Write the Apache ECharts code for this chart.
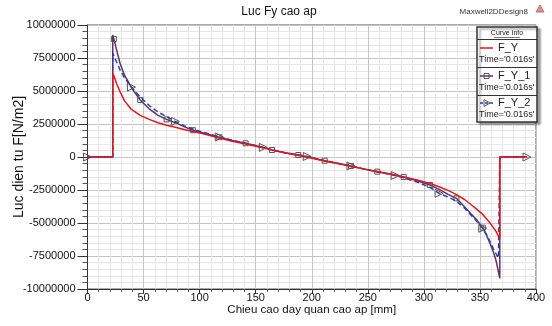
<!DOCTYPE html>
<html>
<head>
<meta charset="utf-8">
<script src="https://cdn.jsdelivr.net/npm/echarts@6/dist/echarts.min.js"></script>
<style>html,body{margin:0;padding:0;background:#fff}#c{width:552px;height:326px}</style>
</head>
<body>
<div id="c"></div>
<script>
// ---- data ----
var xs = [0, 22.5, 22.5, 23.5, 26, 29, 33, 39.2, 47, 55, 63, 70.5, 78.4, 86, 94, 105, 117.5, 129, 141, 156.8, 164.5, 176, 188, 196, 211.5, 223, 235, 246, 258.5, 274.4, 282, 294, 305.5, 313.6, 322, 329, 336, 342, 347, 352.5, 356, 359, 362, 364.5, 366.5, 367.7, 367.7, 376, 392];
var fy = [0, 0, 6340000, 6150000, 5550000, 4950000, 4250000, 3600000, 3150000, 2850000, 2600000, 2400000, 2250000, 2080000, 1930000, 1720000, 1430000, 1200000, 980000, 680000, 540000, 330000, 120000, -20000, -300000, -500000, -700000, -900000, -1100000, -1370000, -1520000, -1740000, -2000000, -2250000, -2550000, -2850000, -3200000, -3600000, -3950000, -4350000, -4700000, -5000000, -5350000, -5650000, -6000000, -6160000, 0, 0, 0];
var fy1 = [0, 0, 9240000, 8940000, 8100000, 7100000, 6200000, 5250000, 4320000, 3650000, 3150000, 2850000, 2600000, 2300000, 2030000, 1780000, 1500000, 1250000, 1040000, 730000, 530000, 330000, 150000, 20000, -280000, -480000, -680000, -900000, -1110000, -1360000, -1520000, -1800000, -2120000, -2450000, -2850000, -3130000, -3750000, -4300000, -4750000, -5350000, -5950000, -6550000, -7200000, -7900000, -8700000, -9190000, 0, 0, 0];
var fy2 = [0, 0, 7900000, 7650000, 7200000, 6600000, 6000000, 5300000, 4550000, 3900000, 3400000, 3050000, 2700000, 2380000, 2120000, 1830000, 1520000, 1270000, 1040000, 730000, 550000, 330000, 150000, 40000, -280000, -480000, -680000, -900000, -1130000, -1400000, -1580000, -1900000, -2300000, -2750000, -3050000, -3350000, -3850000, -4400000, -4850000, -5400000, -5900000, -6400000, -6950000, -7350000, -7650000, -7800000, 0, 0, 0];
var squareMarkX = [23.5, 47, 70.5, 94, 117.5, 141, 164.5, 188, 211.5, 235, 258.5, 282, 305.5, 329, 352.5];
var triMarkX = [0, 39.2, 78.4, 117.5, 156.8, 196, 235, 274.4, 313.6, 352.5, 392];
var seriesNames = ['F_Y', 'F_Y_1', 'F_Y_2'];
var timeLabel = "Time='0.016s'";
var titleText = 'Luc Fy cao ap';
var designText = 'Maxwell2DDesign8';
var xName = 'Chieu cao day quan cao ap [mm]';
var yName = 'Luc dien tu F[N/m2]';

var FONT = "'Liberation Sans', Arial, sans-serif";
var cRed = '#e8141c', cPur = '#5e3460', cBlue = '#2a3cb4', cMark = '#555555';

function build(vals, marks, sym, rot, size) {
  return xs.map(function (x, i) {
    var item = { value: [x, vals[i]] };
    if (marks && marks.indexOf(x) >= 0 && i === xs.lastIndexOf(x)) {
      item.symbol = sym; item.symbolSize = size; item.symbolRotate = rot;
    }
    return item;
  });
}

var chart = echarts.init(document.getElementById('c'), null, { renderer: 'canvas' });
var option = {
  animation: false,
  backgroundColor: '#fff',
  textStyle: { fontFamily: FONT },
  grid: { left: 87.5, right: 16, top: 25, bottom: 37, containLabel: false, outerBoundsMode: 'none', show: true, borderColor: '#555', borderWidth: 1, backgroundColor: 'transparent' },
  xAxis: {
    type: 'value', min: 0, max: 400, interval: 50,
    name: xName, nameLocation: 'middle', nameGap: 15, nameMoveOverlap: false,
    nameTextStyle: { fontFamily: FONT, fontSize: 11.5, color: '#111' },
    axisLine: { show: true, onZero: false, lineStyle: { color: '#333', width: 1 } },
    axisTick: { show: true, length: 5, lineStyle: { color: '#333' } },
    minorTick: { show: true, splitNumber: 5, length: 3, lineStyle: { color: '#555' } },
    axisLabel: { fontFamily: FONT, fontSize: 11, color: '#111', margin: 3 },
    splitLine: { show: true, lineStyle: { color: '#c4c4c4', width: 1 } },
    minorSplitLine: { show: true, lineStyle: { color: '#e6e6e6', width: 1 } }
  },
  yAxis: {
    type: 'value', min: -10000000, max: 10000000, interval: 2500000,
    name: yName, nameLocation: 'middle', nameGap: 61, nameRotate: 90, nameMoveOverlap: false,
    nameTextStyle: { fontFamily: FONT, fontSize: 14, color: '#111' },
    axisLine: { show: true, onZero: false, lineStyle: { color: '#333', width: 1 } },
    axisTick: { show: true, length: 10, lineStyle: { color: '#333' } },
    minorTick: { show: true, splitNumber: 5, length: 5, lineStyle: { color: '#555' } },
    axisLabel: { fontFamily: FONT, fontSize: 11, color: '#111', margin: 12, formatter: function (v) { return String(v); } },
    splitLine: { show: true, lineStyle: { color: '#c4c4c4', width: 1 } },
    minorSplitLine: { show: true, lineStyle: { color: '#e6e6e6', width: 1 } }
  },
  series: [
    {
      name: seriesNames[1], type: 'line', z: 2, symbol: 'none', showSymbol: true, showAllSymbol: true,
      data: build(fy1, squareMarkX, 'rect', 0, 5),
      lineStyle: { color: cPur, width: 1.5 },
      itemStyle: { color: 'rgba(255,255,255,0)', borderColor: cMark, borderWidth: 1 },
      emphasis: { disabled: true }
    },
    {
      name: seriesNames[2], type: 'line', z: 3, symbol: 'none', showSymbol: true, showAllSymbol: true,
      data: build(fy2, triMarkX, 'triangle', -90, 8),
      lineStyle: { color: cBlue, width: 1.5, type: [5, 3] },
      itemStyle: { color: 'rgba(255,255,255,0)', borderColor: cMark, borderWidth: 1 },
      emphasis: { disabled: true }
    },
    {
      name: seriesNames[0], type: 'line', z: 4, symbol: 'none', showSymbol: false,
      data: build(fy, null),
      lineStyle: { color: cRed, width: 1.5 },
      itemStyle: { color: cRed },
      emphasis: { disabled: true }
    }
  ],
  graphic: [
    { type: 'text', z: 10, style: { text: titleText, x: 279, y: 12, font: '12px ' + FONT, fill: '#111', align: 'center', verticalAlign: 'middle' } },
    { type: 'text', z: 10, style: { text: designText, x: 528, y: 12, font: '8px ' + FONT, fill: '#333', align: 'right', verticalAlign: 'middle' } },
    { type: 'polygon', z: 10, shape: { points: [[536, 12], [544, 12], [540, 5]] }, style: { fill: '#d89090', stroke: '#c07070' } },
    // legend box
    { type: 'rect', z: 20, shape: { x: 477, y: 27, width: 60, height: 95 }, style: { fill: '#fff', stroke: '#333', lineWidth: 1.5, shadowColor: 'rgba(0,0,0,0.35)', shadowOffsetX: 3, shadowOffsetY: 2, shadowBlur: 2 } },
    { type: 'text', z: 21, style: { text: 'Curve Info', x: 507, y: 33, font: '7px ' + FONT, fill: '#222', align: 'center', verticalAlign: 'middle' } },
    { type: 'line', z: 21, shape: { x1: 494, y1: 37.5, x2: 520, y2: 37.5 }, style: { stroke: '#222', lineWidth: 0.6 } },
    { type: 'line', z: 21, shape: { x1: 477, y1: 39.5, x2: 537, y2: 39.5 }, style: { stroke: '#333', lineWidth: 1 } },
    { type: 'line', z: 21, shape: { x1: 477, y1: 67.5, x2: 537, y2: 67.5 }, style: { stroke: '#333', lineWidth: 1 } },
    { type: 'line', z: 21, shape: { x1: 477, y1: 95.5, x2: 537, y2: 95.5 }, style: { stroke: '#333', lineWidth: 1 } },
    // row 1
    { type: 'line', z: 21, shape: { x1: 480, y1: 48, x2: 493, y2: 48 }, style: { stroke: cRed, lineWidth: 1.5 } },
    { type: 'text', z: 21, style: { text: seriesNames[0], x: 498, y: 48, font: '11px ' + FONT, fill: '#222', verticalAlign: 'middle' } },
    { type: 'text', z: 21, style: { text: timeLabel, x: 479, y: 60, font: '9px ' + FONT, fill: '#222', verticalAlign: 'middle' } },
    // row 2
    { type: 'line', z: 21, shape: { x1: 480, y1: 76, x2: 493, y2: 76 }, style: { stroke: cPur, lineWidth: 1.5 } },
    { type: 'rect', z: 22, shape: { x: 484, y: 73.5, width: 5, height: 5 }, style: { fill: 'rgba(255,255,255,0)', stroke: cMark, lineWidth: 1 } },
    { type: 'text', z: 21, style: { text: seriesNames[1], x: 498, y: 76, font: '11px ' + FONT, fill: '#222', verticalAlign: 'middle' } },
    { type: 'text', z: 21, style: { text: timeLabel, x: 479, y: 87.5, font: '9px ' + FONT, fill: '#222', verticalAlign: 'middle' } },
    // row 3
    { type: 'line', z: 21, shape: { x1: 480, y1: 103, x2: 493, y2: 103 }, style: { stroke: cBlue, lineWidth: 1.5, lineDash: [3, 2] } },
    { type: 'polygon', z: 22, shape: { points: [[484, 99.5], [484, 106.5], [490, 103]] }, style: { fill: 'rgba(255,255,255,0)', stroke: cMark, lineWidth: 1 } },
    { type: 'text', z: 21, style: { text: seriesNames[2], x: 498, y: 103, font: '11px ' + FONT, fill: '#222', verticalAlign: 'middle' } },
    { type: 'text', z: 21, style: { text: timeLabel, x: 479, y: 115, font: '9px ' + FONT, fill: '#222', verticalAlign: 'middle' } }
  ]
};
chart.setOption(option);
</script>
</body>
</html>
